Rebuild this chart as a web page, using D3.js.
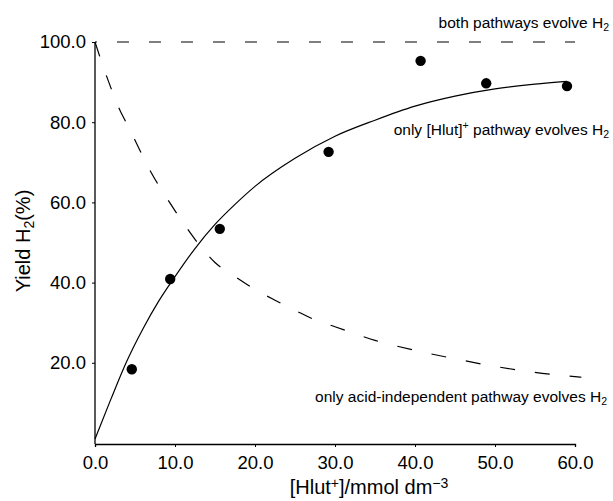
<!DOCTYPE html>
<html>
<head>
<meta charset="utf-8">
<script src="https://cdn.jsdelivr.net/npm/d3@7"></script>
<style>
  body { margin: 0; background: #fff; }
  svg text { font-family: "Liberation Sans", Arial, Helvetica, sans-serif; fill: #000; }
</style>
</head>
<body>
<div id="chart"></div>
<script>
// tick values
const xTicks = [0, 10, 20, 30, 40, 50, 60];
const yTicks = [20, 40, 60, 80, 100];

// measured yields (dots)
const measuredX = [4.6, 9.4, 15.6, 29.2, 40.7, 48.9, 59.0];
const measuredY = [18.4, 40.9, 53.4, 72.6, 95.3, 89.7, 89.0];

// solid curve: only [Hlut]+ pathway
const hlutX = [0, 2, 4, 6, 8, 10, 12.5, 15, 17.5, 20, 25, 30, 35, 40, 45, 50, 55, 59];
const hlutY = [1, 11, 20.5, 28.5, 35.5, 41.5, 48.5, 54.5, 59.5, 64, 71, 76.5, 80.5, 84, 86.5, 88.3, 89.5, 90.2];

// dashed curve: only acid-independent pathway
const acidX = [0, 1, 2, 3, 4, 5, 7, 9, 11, 13, 15, 17.5, 20, 22.5, 25, 27.5, 30, 35, 40, 45, 50, 55, 60.8];
const acidY = [100, 94, 88.5, 83.5, 79.5, 75.5, 67.5, 61, 55, 49.5, 45, 41.5, 38.3, 35.6, 33.1, 30.7, 29, 25.6, 23.1, 21, 19.1, 17.6, 16.4];

// dashed line: both pathways
const bothX = [0, 60];
const bothY = [100, 100];

const width = 613;
const height = 501;

const x = d3.scaleLinear([0, 60], [95, 575]);
const y = d3.scaleLinear([0, 100], [443, 42]);

const svg = d3.select("#chart").append("svg")
    .attr("width", width)
    .attr("height", height)
    .attr("viewBox", [0, 0, width, height]);

const fmt = d3.format(".1f");

// x-axis
svg.append("g")
    .attr("transform", `translate(0,${y(0) + 1})`)
    .call(d3.axisBottom(x).tickValues(xTicks).tickFormat(fmt).tickSize(3).tickPadding(9))
    .call(g => g.select(".domain").attr("stroke", "#000").attr("stroke-width", 1.3))
    .call(g => g.selectAll(".tick line").attr("stroke", "#000"))
    .call(g => g.selectAll(".tick text").attr("font-size", 18.5).attr("font-family", null));

// y-axis
svg.append("g")
    .attr("transform", `translate(${x(0)},0)`)
    .call(d3.axisLeft(y).tickValues(yTicks).tickFormat(fmt).tickSize(3).tickPadding(6).tickSizeOuter(0))
    .call(g => g.select(".domain").attr("stroke", "#000").attr("stroke-width", 1.3)
        .attr("d", `M0,${y(0) + 1}V${y(100)}`))
    .call(g => g.selectAll(".tick line").attr("stroke", "#000"))
    .call(g => g.selectAll(".tick text").attr("font-size", 18.5).attr("font-family", null));

const line = d3.line()
    .x(d => x(d[0]))
    .y(d => y(d[1]))
    .curve(d3.curveMonotoneX);

svg.append("path")
    .attr("fill", "none")
    .attr("stroke", "#000")
    .attr("stroke-width", 1.2)
    .attr("stroke-dasharray", "12,20")
    .attr("stroke-dashoffset", 10)
    .attr("d", line(d3.zip(bothX, bothY)));

svg.append("path")
    .attr("fill", "none")
    .attr("stroke", "#000")
    .attr("stroke-width", 1.2)
    .attr("stroke-dasharray", "15,20")
    .attr("d", line(d3.zip(acidX, acidY)));

svg.append("path")
    .attr("fill", "none")
    .attr("stroke", "#000")
    .attr("stroke-width", 1.2)
    .attr("d", line(d3.zip(hlutX, hlutY)));

svg.append("g")
  .selectAll("circle")
  .data(d3.zip(measuredX, measuredY))
  .join("circle")
    .attr("cx", d => x(d[0]))
    .attr("cy", d => y(d[1]))
    .attr("r", 5.2)
    .attr("fill", "#000");

// annotations
function label(px, py, parts) {
  const t = svg.append("text")
      .attr("x", px)
      .attr("y", py)
      .attr("text-anchor", "end")
      .attr("font-size", 15.5);
  parts.forEach(p => {
    const s = t.append("tspan").text(p.text);
    if (p.sub) s.attr("font-size", 10.5).attr("baseline-shift", "-3");
    if (p.sup) s.attr("font-size", 10.5).attr("baseline-shift", "6");
  });
}
label(609, 28, [{text: "both pathways evolve H"}, {text: "2", sub: true}]);
label(609, 135, [{text: "only [Hlut]"}, {text: "+", sup: true}, {text: " pathway evolves H"}, {text: "2", sub: true}]);
label(607, 402, [{text: "only acid-independent pathway evolves H"}, {text: "2", sub: true}]);

// axis titles
const xt = svg.append("text")
    .attr("x", 369)
    .attr("y", 494)
    .attr("text-anchor", "middle")
    .attr("font-size", 20);
xt.append("tspan").text("[Hlut");
xt.append("tspan").text("+").attr("font-size", 14).attr("baseline-shift", "6");
xt.append("tspan").text("]/mmol dm");
xt.append("tspan").text("\u22123").attr("font-size", 14).attr("baseline-shift", "6");

const yt = svg.append("text")
    .attr("transform", "translate(30,241) rotate(-90)")
    .attr("text-anchor", "middle")
    .attr("font-size", 20);
yt.append("tspan").text("Yield H");
yt.append("tspan").text("2").attr("font-size", 14).attr("baseline-shift", "-4");
yt.append("tspan").text("(%)");
</script>
</body>
</html>
